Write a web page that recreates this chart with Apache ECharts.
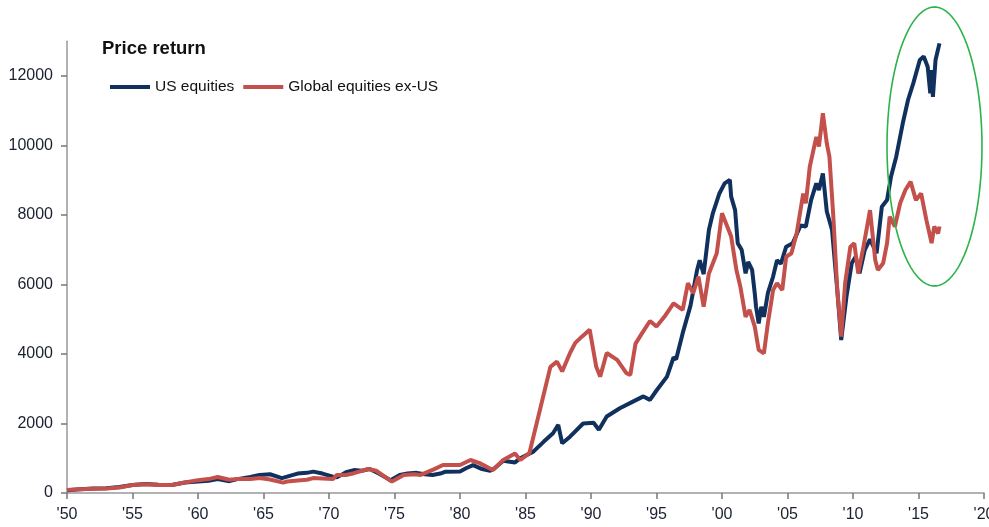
<!DOCTYPE html>
<html>
<head>
<meta charset="utf-8">
<script src="https://cdn.jsdelivr.net/npm/echarts@6/dist/echarts.min.js"></script>
<style>
  html, body { margin: 0; padding: 0; background: #fff; }
  #chart { width: 989px; height: 527px; }
</style>
</head>
<body>
<div id="chart"></div>
<script>
// price return
var usYears = [1950.0,1951.0,1952.0,1953.0,1954.0,1955.0,1956.0,1957.0,1958.0,1959.0,1960.0,1960.8,1961.5,1962.4,1963.0,1964.0,1964.7,1965.5,1966.4,1966.8,1967.6,1968.3,1968.8,1969.5,1970.3,1970.6,1971.3,1971.9,1972.5,1973.1,1973.8,1974.7,1975.4,1976.0,1976.7,1977.3,1977.9,1978.5,1978.9,1980.0,1980.5,1981.0,1981.6,1982.3,1982.6,1983.3,1984.2,1984.6,1985.6,1986.4,1987.1,1987.5,1987.8,1988.4,1989.4,1990.2,1990.6,1991.2,1992.2,1993.2,1994.0,1994.5,1995.0,1995.8,1996.3,1996.5,1997.0,1997.6,1998.1,1998.3,1998.6,1999.0,1999.3,1999.8,2000.2,2000.6,2000.7,2001.0,2001.2,2001.5,2001.8,2002.0,2002.3,2002.5,2002.6,2002.8,2003.0,2003.2,2003.5,2003.9,2004.2,2004.5,2004.9,2005.4,2006.0,2006.4,2006.8,2007.2,2007.4,2007.7,2008.0,2008.4,2008.8,2009.1,2009.5,2009.9,2010.2,2010.5,2010.9,2011.3,2011.8,2012.2,2012.6,2012.9,2013.3,2013.8,2014.2,2014.6,2015.1,2015.4,2015.7,2015.9,2016.0,2016.1,2016.3,2016.6];
var usValues = [80,110,130,140,170,230,260,240,230,300,330,350,400,340,400,460,520,540,430,470,560,580,615,560,470,450,600,660,640,690,560,370,520,560,580,540,520,560,615,620,720,800,700,640,700,930,880,1000,1190,1480,1720,1960,1430,1620,2000,2020,1820,2200,2440,2630,2780,2680,2950,3350,3900,3850,4600,5400,6420,6700,6300,7570,8050,8620,8910,9010,8530,8140,7190,7000,6320,6650,6420,5750,5360,4880,5360,5070,5750,6230,6700,6600,7090,7190,7700,7670,8430,8910,8720,9200,8100,7570,5840,4400,5650,6610,6800,6320,7000,7300,6900,8240,8430,9100,9680,10640,11310,11790,12460,12560,12270,11500,12170,11400,12460,12940];

var globalYears = [1950.0,1951.0,1952.0,1953.0,1954.0,1955.0,1956.0,1957.0,1958.0,1959.0,1960.0,1960.8,1961.5,1962.4,1963.0,1964.0,1964.7,1965.5,1966.5,1966.8,1967.6,1968.3,1968.8,1969.5,1970.3,1970.6,1971.3,1971.9,1973.0,1973.6,1974.8,1975.7,1976.5,1977.0,1978.0,1978.7,1980.0,1980.8,1981.5,1982.5,1983.3,1984.2,1984.6,1985.3,1986.1,1986.9,1987.4,1987.8,1988.4,1988.8,1989.3,1989.9,1990.4,1990.7,1991.2,1992.0,1992.7,1993.0,1993.4,1993.9,1994.5,1995.0,1995.6,1996.3,1997.0,1997.4,1997.8,1998.2,1998.6,1999.0,1999.6,2000.0,2000.4,2000.7,2001.1,2001.4,2001.8,2002.1,2002.5,2002.8,2003.2,2003.5,2003.9,2004.2,2004.6,2004.9,2005.3,2005.7,2006.2,2006.4,2006.7,2007.2,2007.4,2007.7,2008.0,2008.2,2008.5,2008.8,2009.0,2009.1,2009.4,2009.8,2010.1,2010.4,2010.8,2011.3,2011.7,2011.9,2012.3,2012.6,2012.8,2013.2,2013.6,2014.0,2014.4,2014.8,2015.2,2015.6,2016.0,2016.2,2016.5,2016.6];
var globalValues = [90,110,120,130,160,230,250,230,230,300,370,400,460,380,400,400,430,390,300,330,360,380,430,420,400,520,520,570,690,640,330,520,540,520,680,805,805,950,860,660,950,1140,950,1150,2390,3630,3780,3500,4030,4320,4500,4700,3630,3350,4030,3830,3450,3400,4300,4600,4950,4790,5070,5460,5270,6040,5750,6230,5360,6320,6900,8050,7670,7380,6420,5940,5070,5270,4790,4120,4020,4880,5840,6040,5840,6800,6900,7470,8620,8340,9390,10250,9970,10930,10060,9680,7950,5840,4980,4500,6040,7090,7190,6320,7090,8140,6700,6420,6610,7190,7950,7670,8340,8720,8960,8430,8620,7860,7190,7670,7470,7670];

var yTicks = [0, 2000, 4000, 6000, 8000, 10000, 12000];
var seriesNames = ['US equities', 'Global equities ex-US'];

var font = "'Liberation Sans Narrow', 'Arial Narrow', 'Liberation Sans', Arial, sans-serif";

function pairs(xs, ys) {
    var out = [];
    for (var i = 0; i < xs.length; i++) out.push([xs[i], ys[i]]);
    return out;
}

// green ring round the last years (annotation, in pixels)
function ellipsePoints(cx, cy, rx, ry) {
    var pts = [];
    for (var i = 0; i < 90; i++) {
        var a = i / 90 * Math.PI * 2;
        pts.push([cx + rx * Math.cos(a), cy + ry * Math.sin(a)]);
    }
    return pts;
}

var chart = echarts.init(document.getElementById('chart'));
var option = {
    backgroundColor: '#fff',
    animation: false,
    title: {
        text: 'Price return',
        left: 97,
        top: 34,
        textStyle: { fontFamily: font, fontWeight: 'bold', fontSize: 18.5, color: '#111' }
    },
    legend: {
        left: 105,
        top: 74,
        itemWidth: 40,
        itemHeight: 4,
        itemGap: 9,
        icon: 'rect',
        data: seriesNames,
        textStyle: { fontFamily: font, fontSize: 15.5, color: '#111' }
    },
    grid: { left: 67, right: 5, top: 41.3, bottom: 34, containLabel: false, outerBoundsMode: 'none' },
    xAxis: {
        type: 'value',
        min: 1950,
        max: 2020,
        interval: 5,
        splitLine: { show: false },
        axisLine: { lineStyle: { color: '#999', width: 1.5 } },
        axisTick: { length: 6, lineStyle: { color: '#777', width: 1.5 } },
        axisLabel: {
            margin: 14,
            fontFamily: font,
            fontSize: 16,
            color: '#1a2030',
            formatter: function (v) { return "'" + String(v).slice(2); }
        }
    },
    yAxis: {
        type: 'value',
        min: 0,
        max: 13000,
        splitLine: { show: false },
        axisLine: { show: true, lineStyle: { color: '#999', width: 1.5 } },
        axisTick: { show: true, length: 6, customValues: yTicks, lineStyle: { color: '#777', width: 1.5 } },
        axisLabel: {
            customValues: yTicks,
            margin: 14,
            fontFamily: font,
            fontSize: 16,
            color: '#1a2030',
            formatter: function (v) { return String(v); }
        }
    },
    series: [
        {
            name: seriesNames[0],
            type: 'line',
            showSymbol: false,
            color: '#10305e',
            lineStyle: { width: 4, color: '#10305e' },
            data: pairs(usYears, usValues)
        },
        {
            name: seriesNames[1],
            type: 'line',
            showSymbol: false,
            color: '#c4504c',
            lineStyle: { width: 4, color: '#c4504c' },
            data: pairs(globalYears, globalValues)
        }
    ],
    graphic: [
        {
            type: 'polygon',
            shape: { points: ellipsePoints(934.5, 146.5, 47.5, 139.5) },
            style: { fill: 'none', stroke: '#2cb34a', lineWidth: 1.6 },
            z: 10
        }
    ]
};
chart.setOption(option);
</script>
</body>
</html>
